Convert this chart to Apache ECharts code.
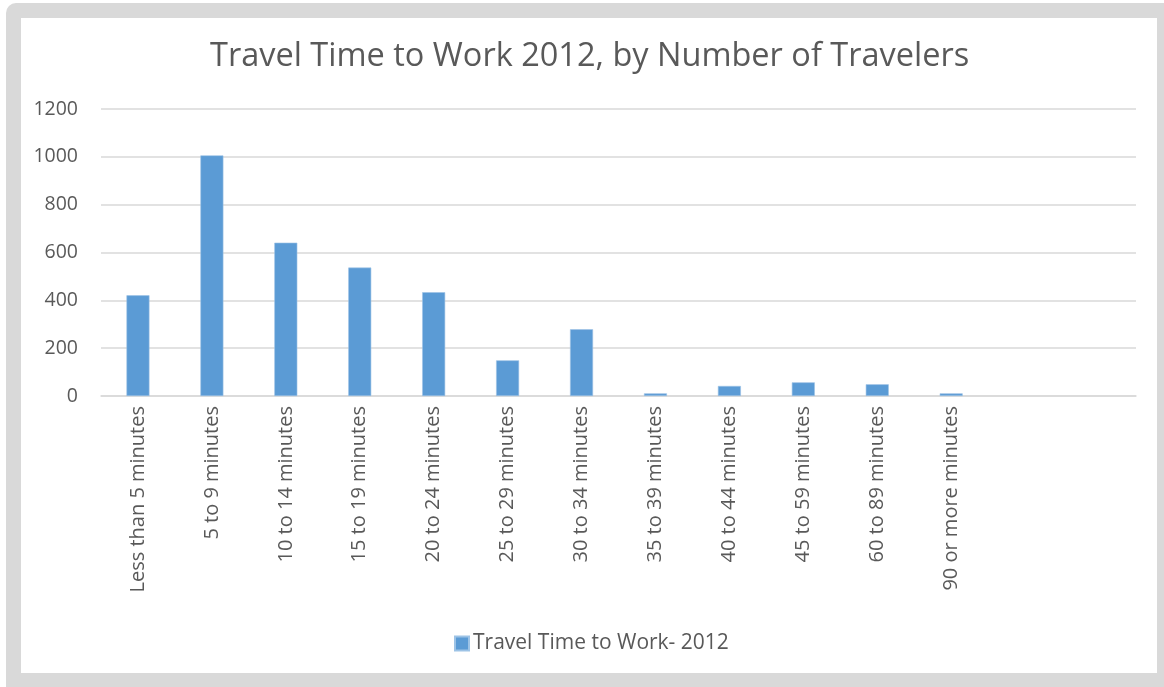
<!DOCTYPE html>
<html><head><meta charset="utf-8">
<script src="https://cdn.jsdelivr.net/npm/echarts@6/dist/echarts.min.js"></script>
<style>
html,body{margin:0;padding:0;background:#fff;width:1164px;height:687px;overflow:hidden;}
#frame{position:absolute;left:6px;top:3px;width:1200px;height:720px;background:#d9d9d9;border-radius:10px;}
#inner{position:absolute;left:21px;top:18px;width:1136px;height:655px;background:#fff;}
#chart{position:absolute;left:0;top:0;width:1164px;height:687px;}
</style></head>
<body>
<div id="frame"></div><div id="inner"></div>
<div id="chart"></div>
<script>
const categories = ["Less than 5 minutes","5 to 9 minutes","10 to 14 minutes","15 to 19 minutes","20 to 24 minutes","25 to 29 minutes","30 to 34 minutes","35 to 39 minutes","40 to 44 minutes","45 to 59 minutes","60 to 89 minutes","90 or more minutes","",""];
const values = [421, 1006, 641, 537, 434, 149, 279, 11, 42, 57, 49, 11, null, null];
const seriesName = "Travel Time to Work- 2012";
const titleText = "Travel Time to Work 2012, by Number of Travelers";

const chart = echarts.init(document.getElementById('chart'), null, {renderer:'canvas'});
const font = "'Open Sans', sans-serif";
chart.setOption({
  animation:false,
  backgroundColor:'transparent',
  title:{text:titleText,left:205,top:35,textStyle:{fontFamily:font,fontWeight:'normal',fontSize:32.5,color:'#595959'}},
  legend:{bottom:28,left:449,itemWidth:14,itemHeight:14,icon:'rect',itemGap:6,
    textStyle:{fontFamily:font,fontSize:21,color:'#595959',padding:[0,0,0,-1]},data:[seriesName]},
  grid:{left:101,right:28,top:109,bottom:291,containLabel:false},
  xAxis:{type:'category',data:categories,
    axisLine:{lineStyle:{color:'#d9d9d9',width:1.5}},axisTick:{show:false},
    axisLabel:{rotate:90,interval:0,fontFamily:font,fontSize:20,color:'#595959',margin:10}},
  yAxis:{type:'value',min:0,max:1200,interval:200,
    axisLine:{show:false},axisTick:{show:false},
    splitLine:{lineStyle:{color:'#d9d9d9',width:1.5}},
    axisLabel:{fontFamily:font,fontSize:19.5,color:'#595959',margin:23,formatter:v=>String(v)}},
  series:[{name:seriesName,type:'bar',data:values,barWidth:23,
    itemStyle:{color:'#5b9bd5',borderColor:'#9dc3e6',borderWidth:0.6}}]
});
</script>
</body></html>
